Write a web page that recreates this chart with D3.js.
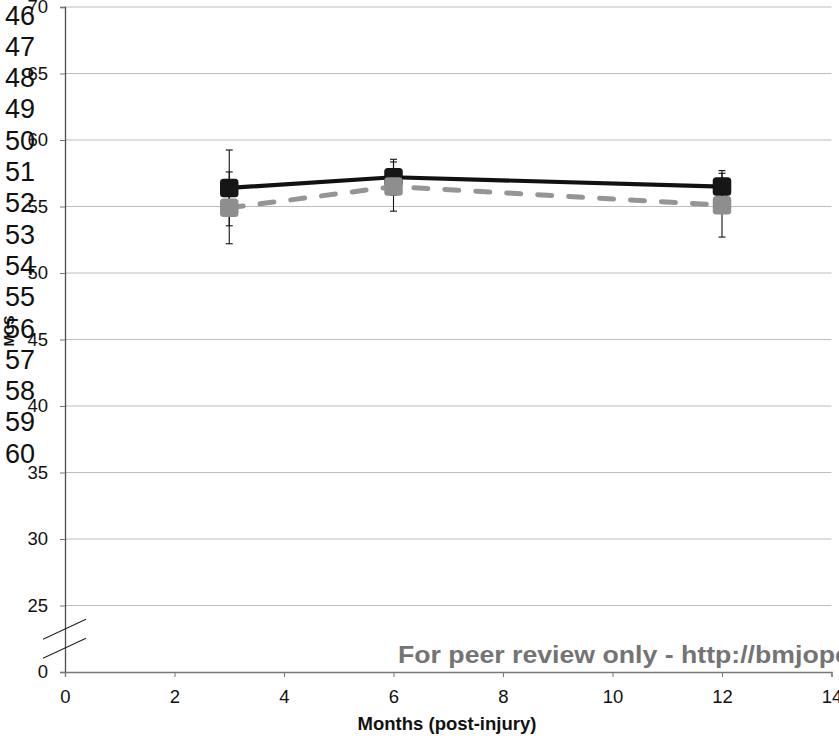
<!DOCTYPE html>
<html>
<head>
<meta charset="utf-8">
<script src="https://cdn.jsdelivr.net/npm/d3@7"></script>
<style>
  html, body { margin: 0; padding: 0; background: #fff; }
  svg { display: block; font-family: "Liberation Sans", Arial, sans-serif; }
</style>
</head>
<body>
<svg id="chart" width="839" height="738"></svg>
<script>
// Follow-up time points (months after injury)
const months = [3, 6, 12];

// Mean scores and error half-widths for the two groups
const groupAValues = [56.4, 57.2, 56.5];
const groupAErrors = [2.85, 1.35, 1.2];
const groupBValues = [54.9, 56.5, 55.1];
const groupBErrors = [2.7, 1.85, 2.4];

// Axis ticks; the lowest position is shown as 0 below the axis break
const xTicks = [0, 2, 4, 6, 8, 10, 12, 14];
const yTicks = [20, 25, 30, 35, 40, 45, 50, 55, 60, 65, 70];
const yTickLabels = ["0", "25", "30", "35", "40", "45", "50", "55", "60", "65", "70"];

// Manuscript line numbers in the margin
const lineNumbers = d3.range(46, 61);

const svg = d3.select("#chart");

const x = d3.scaleLinear().domain([0, 14]).range([65, 831.5]);
const y = d3.scaleLinear().domain([20, 70]).range([672, 7]);

// Horizontal gridlines (none at the broken baseline)
svg.append("g")
  .selectAll("line")
  .data(yTicks.filter(t => t > 20))
  .join("line")
  .attr("x1", x(0)).attr("x2", x(14))
  .attr("y1", d => y(d)).attr("y2", d => y(d))
  .attr("stroke", "#bdbdbd").attr("stroke-width", 1.2);

// Y axis
const yAxis = svg.append("g")
  .attr("transform", `translate(${x(0)},0)`)
  .call(d3.axisLeft(y).tickValues(yTicks)
    .tickFormat((d, i) => yTickLabels[i]).tickSize(5).tickPadding(12));
yAxis.select(".domain").attr("stroke", "#4d4d4d").attr("stroke-width", 1.3);
yAxis.selectAll(".tick line").attr("stroke", "#777");
yAxis.selectAll("text").attr("font-size", 18.5).attr("fill", "#111")
  .attr("font-family", "'Liberation Sans', Arial, sans-serif");

// X axis
const xAxis = svg.append("g")
  .attr("transform", `translate(0,${y(20)})`)
  .call(d3.axisBottom(x).tickValues(xTicks).tickSize(5).tickPadding(13));
xAxis.select(".domain").attr("stroke", "#777").attr("stroke-width", 1.3);
xAxis.selectAll(".tick line").attr("stroke", "#777");
xAxis.selectAll("text").attr("font-size", 18.5).attr("fill", "#111")
  .attr("font-family", "'Liberation Sans', Arial, sans-serif");

// Axis break marks between 0 and 25
const breakMid = (y(20) + y(25)) / 2;
[-9.5, 9.5].forEach(off => {
  svg.append("line")
    .attr("x1", x(0) - 22).attr("y1", breakMid + off + 10)
    .attr("x2", x(0) + 21).attr("y2", breakMid + off - 10)
    .attr("stroke", "#222").attr("stroke-width", 1.1);
});

// Axis titles
svg.append("text")
  .attr("x", 447).attr("y", 730)
  .attr("text-anchor", "middle")
  .attr("font-size", 18.5).attr("font-weight", "bold").attr("fill", "#111")
  .text("Months (post-injury)");

svg.append("text")
  .attr("transform", "translate(14,331) rotate(-90)")
  .attr("text-anchor", "middle")
  .attr("font-size", 14).attr("font-weight", "bold").attr("fill", "#111")
  .text("MCS");

// Soft edge on the markers
const defs = svg.append("defs");
defs.append("filter").attr("id", "soft")
  .attr("x", "-30%").attr("y", "-30%").attr("width", "160%").attr("height", "160%")
  .append("feGaussianBlur").attr("stdDeviation", 0.7);

const series = [
  { values: groupAValues, errors: groupAErrors, color: "#111", dash: null, width: 4.2, marker: "#151515" },
  { values: groupBValues, errors: groupBErrors, color: "#959595", dash: "14,17", width: 5, marker: "#8e8e8e" }
];

// Error bars sit behind the lines and markers
series.forEach(s => {
  const g = svg.append("g").attr("stroke", "#111").attr("stroke-width", 1.1);
  months.forEach((m, i) => {
    const lo = y(s.values[i] - s.errors[i]);
    const hi = y(s.values[i] + s.errors[i]);
    g.append("line").attr("x1", x(m)).attr("x2", x(m)).attr("y1", lo).attr("y2", hi);
    g.append("line").attr("x1", x(m) - 3.5).attr("x2", x(m) + 3.5).attr("y1", lo).attr("y2", lo);
    g.append("line").attr("x1", x(m) - 3.5).attr("x2", x(m) + 3.5).attr("y1", hi).attr("y2", hi);
  });
});

const line = d3.line().x((d, i) => x(months[i])).y(d => y(d));

series.forEach(s => {
  const path = svg.append("path")
    .datum(s.values)
    .attr("d", line)
    .attr("fill", "none")
    .attr("stroke", s.color)
    .attr("stroke-width", s.width)
    .attr("stroke-linecap", "round")
    .attr("stroke-linejoin", "round");
  if (s.dash) path.attr("stroke-dasharray", s.dash);

  const size = 18.5;
  svg.append("g").attr("filter", "url(#soft)")
    .selectAll("rect")
    .data(s.values)
    .join("rect")
    .attr("x", (d, i) => x(months[i]) - size / 2)
    .attr("y", d => y(d) - size / 2)
    .attr("width", size).attr("height", size)
    .attr("rx", 3.5)
    .attr("fill", s.marker);
});

// Review watermark running off the right edge (slightly widened lettering)
svg.append("text")
  .attr("transform", "translate(398,663) scale(1.16,1)")
  .attr("font-size", 23).attr("font-weight", "bold").attr("fill", "#747474")
  .text("For peer review only - http://bmjopen.bmj.com/site/about/guidelines.xhtml");

// Margin line numbers
svg.append("g")
  .selectAll("text")
  .data(lineNumbers)
  .join("text")
  .attr("x", 5)
  .attr("y", (d, i) => 24.5 + i * 31.3)
  .attr("font-size", 27).attr("fill", "#111")
  .text(d => d);
</script>
</body>
</html>
